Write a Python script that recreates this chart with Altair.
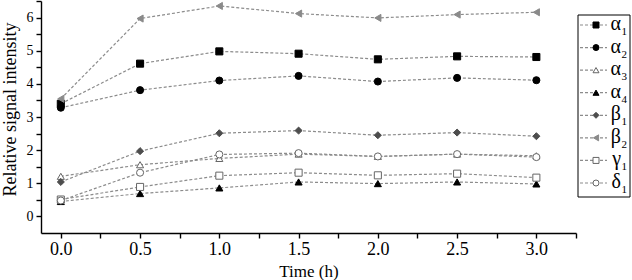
import altair as alt
import pandas as pd

# ---- data ----
times = [0.0, 0.5, 1.0, 1.5, 2.0, 2.5, 3.0]
letters = ["α", "α", "α", "α", "β", "β", "γ", "δ"]
subs = ["1", "2", "3", "4", "1", "2", "1", "1"]

alpha1 = [3.40, 4.61, 4.98, 4.91, 4.74, 4.83, 4.81]
alpha2 = [3.28, 3.81, 4.10, 4.24, 4.07, 4.18, 4.11]
alpha3 = [1.21, 1.56, 1.75, 1.88, 1.81, 1.88, 1.83]
alpha4 = [0.45, 0.69, 0.86, 1.04, 0.99, 1.04, 0.98]
beta1 = [1.04, 1.97, 2.51, 2.59, 2.45, 2.53, 2.42]
beta2 = [3.55, 5.97, 6.35, 6.12, 5.99, 6.09, 6.16]
gamma1 = [0.51, 0.89, 1.23, 1.32, 1.24, 1.29, 1.17]
delta1 = [0.48, 1.32, 1.87, 1.91, 1.81, 1.88, 1.79]

series_values = [alpha1, alpha2, alpha3, alpha4, beta1, beta2, gamma1, delta1]

x_ticks = [i * 0.25 for i in range(14)]
y_ticks = [i * 0.5 for i in range(14)]

# ---- styles ----
shapes = ["square", "circle", "triangle-up", "triangle-up", "diamond",
          "triangle-left", "square", "circle"]
fills = ["#000000", "#000000", "#ffffff", "#000000", "#4d4d4d",
         "#8a8a8a", "#ffffff", "#ffffff"]
strokes = ["#000000", "#000000", "#666666", "#000000", "#4d4d4d",
           "#8a8a8a", "#666666", "#666666"]
LINE = "#8c8c8c"
FONT = "Liberation Serif"

series = [l + s for l, s in zip(letters, subs)]
rows = []
for name, vals in zip(series, series_values):
    for t, v in zip(times, vals):
        rows.append({"series": name, "time": t, "value": v})
df = pd.DataFrame(rows)
leg = pd.DataFrame({"series": series, "letter": letters, "sub": subs})

shape_enc = alt.Shape("series:N", scale=alt.Scale(domain=series, range=shapes), legend=None)
fill_enc = alt.Fill("series:N", scale=alt.Scale(domain=series, range=fills), legend=None)
stroke_enc = alt.Stroke("series:N", scale=alt.Scale(domain=series, range=strokes), legend=None)

x_enc = alt.X(
    "time:Q",
    scale=alt.Scale(domain=[-0.125, 3.25], nice=False, zero=False),
    axis=alt.Axis(
        values=x_ticks,
        labelExpr="(datum.value % 0.5 == 0 && datum.value >= 0 && datum.value <= 3) ? format(datum.value, '.1f') : ''",
        title="Time (h)",
        grid=False,
        tickSize=5,
        labelFontSize=18,
        labelPadding=2,
        titleFontSize=17,
        titleBaseline="alphabetic",
        titleY=43,
    ),
)
y_enc = alt.Y(
    "value:Q",
    scale=alt.Scale(domain=[-0.5, 6.5], nice=False, zero=False),
    axis=alt.Axis(
        values=y_ticks,
        labelExpr="(datum.value % 1 == 0) ? format(datum.value, 'd') : ''",
        title="Relative signal intensity",
        grid=False,
        tickSize=5,
        labelFontSize=14,
        labelPadding=3,
        titleFontSize=18,
        titleAngle=270,
        titleAlign="center",
        titleBaseline="alphabetic",
        titleX=-26,
        titleY=108,
    ),
)

base = alt.Chart(df)
lines = base.mark_line(color=LINE, strokeDash=[3, 2], strokeWidth=1.2).encode(
    x=x_enc, y=y_enc, detail="series:N", order="time:Q"
)
points = base.mark_point(size=50, opacity=1, strokeWidth=1).encode(
    x=x_enc, y=y_enc, shape=shape_enc, fill=fill_enc, stroke=stroke_enc
)
main = alt.layer(lines, points)

# ---- legend panel ----
ly = alt.Y("series:N", sort=series,
           scale=alt.Scale(type="point", domain=series, range=[24, 182], padding=0),
           axis=None)
lbase = alt.Chart(leg)
box = alt.Chart(pd.DataFrame({"k": [0]})).mark_rect(
    fillOpacity=0, stroke="black", strokeWidth=1
).encode(x=alt.value(537), x2=alt.value(589), y=alt.value(14), y2=alt.value(196))
lrule = lbase.mark_rule(color=LINE, strokeDash=[3, 2], strokeWidth=1.2).encode(
    x=alt.value(539), x2=alt.value(566), y=ly
)
lpts = lbase.mark_point(size=36, opacity=1, strokeWidth=1).encode(
    x=alt.value(555), y=ly, shape=shape_enc, fill=fill_enc, stroke=stroke_enc
)
ltxt = lbase.mark_text(align="right", baseline="alphabetic", dy=5, fontSize=20,
                       font=FONT, color="black").encode(
    x=alt.value(580), y=ly, text="letter:N"
)
lsub = lbase.mark_text(align="left", baseline="alphabetic", dy=10, fontSize=11,
                       font=FONT, color="black").encode(
    x=alt.value(580.5), y=ly, text="sub:N"
)
legend = alt.layer(box, lrule, lpts, ltxt, lsub)

chart = (
    alt.layer(main, legend)
    .resolve_scale(y="independent")
    .properties(
        width=535,
        height=232,
        padding={"left": 41, "top": 1, "right": 56, "bottom": 47},
        autosize=alt.AutoSizeParams(type="none"),
        background="white",
    )
    .configure_view(stroke="transparent")
    .configure_axis(
        labelFont=FONT,
        titleFont=FONT,
        labelColor="black",
        titleColor="black",
        titleFontWeight="normal",
        domainColor="black",
        tickColor="black",
        domainWidth=1.4,
        tickWidth=1.4,
    )
)

chart.save("out.html", embed_options={"renderer": "svg", "actions": False})
